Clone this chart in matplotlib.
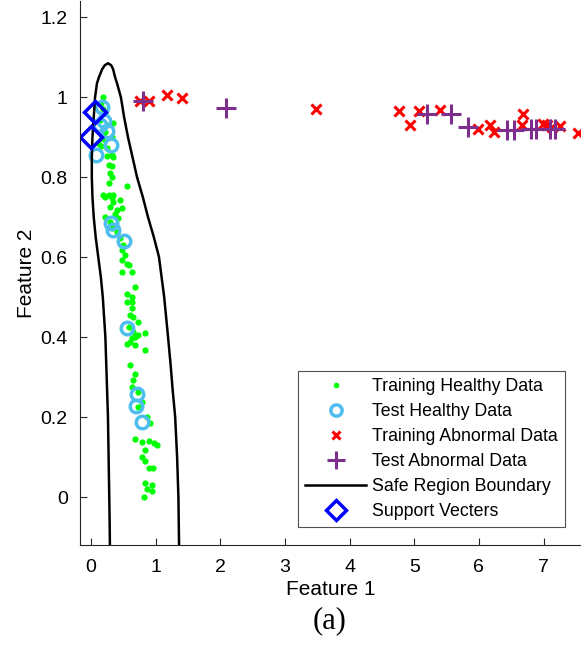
import numpy as np
import matplotlib
matplotlib.use('Agg')
import matplotlib.pyplot as plt

# Training healthy data (green dots)
train_h_x = [0.19, 0.15, 0.19, 0.22, 0.14, 0.345, 0.24, 0.22, 0.32, 0.19, 0.165, 0.22, 0.11,
             0.15, 0.24, 0.32, 0.24, 0.345, 0.27, 0.32, 0.29, 0.32, 0.27, 0.55, 0.19, 0.27, 0.345,
             0.22, 0.32, 0.345, 0.45, 0.29, 0.40, 0.475, 0.37, 0.22, 0.42, 0.29, 0.32, 0.40, 0.45,
             0.50, 0.475, 0.53, 0.475, 0.55, 0.58, 0.475, 0.63, 0.68, 0.55, 0.63, 0.55, 0.63,
             0.63, 0.60, 0.655, 0.73, 0.58, 0.655, 0.835, 0.73, 0.68, 0.63, 0.60, 0.55, 0.68,
             0.835, 0.60, 0.68, 0.655, 0.63, 0.73, 0.78, 0.73,
             0.86, 0.91, 0.68, 0.785, 0.89, 0.965, 1.02, 0.835, 0.785, 0.835, 0.89, 0.955,
             0.835, 0.94, 0.86, 0.94, 0.81]
train_h_y = [1.00, 0.985, 0.97, 0.96, 0.943, 0.935, 0.93, 0.914, 0.90, 0.906, 0.897, 0.893, 0.885,
             0.877, 0.872, 0.856, 0.852, 0.85, 0.83, 0.827, 0.81, 0.80, 0.785, 0.777, 0.756, 0.755, 0.755,
             0.751, 0.747, 0.738, 0.742, 0.726, 0.718, 0.722, 0.709, 0.701, 0.697, 0.688, 0.672, 0.663, 0.647,
             0.63, 0.618, 0.605, 0.593, 0.584, 0.58, 0.563, 0.562, 0.526, 0.507, 0.50, 0.488, 0.487,
             0.472, 0.455, 0.451, 0.438, 0.426, 0.413, 0.41, 0.405, 0.401, 0.397, 0.388, 0.384, 0.38,
             0.367, 0.33, 0.309, 0.294, 0.276, 0.263, 0.238, 0.226,
             0.20, 0.184, 0.144, 0.138, 0.141, 0.136, 0.13, 0.118, 0.101, 0.091, 0.072, 0.072,
             0.036, 0.03, 0.019, 0.016, 0.0]

# Test healthy data (light blue rings)
test_h_x = [0.165, 0.14, 0.20, 0.24, 0.30, 0.08, 0.30, 0.34, 0.51, 0.55, 0.71, 0.70, 0.79]
test_h_y = [0.975, 0.93, 0.94, 0.915, 0.88, 0.855, 0.685, 0.667, 0.64, 0.423, 0.257, 0.228, 0.187]

# Training abnormal data (red crosses)
train_a_x = [0.76, 0.89, 1.17, 1.40, 3.48, 4.77, 4.94, 5.07, 5.40, 5.98, 6.17, 6.24,
             6.69, 6.67, 6.99, 7.05, 7.13, 7.26, 7.54]
train_a_y = [0.99, 0.99, 1.005, 0.997, 0.97, 0.966, 0.93, 0.966, 0.967, 0.92, 0.93, 0.913,
             0.957, 0.93, 0.934, 0.93, 0.926, 0.927, 0.91]

# Test abnormal data (purple plus)
test_a_x = [0.80, 2.09, 5.20, 5.57, 5.83, 6.43, 6.55, 6.81, 6.88, 7.10, 7.18]
test_a_y = [0.99, 0.973, 0.957, 0.957, 0.926, 0.918, 0.918, 0.92, 0.92, 0.92, 0.92]

# Safe region boundary (left branch up, right branch down)
bound_x = [0.29, 0.285, 0.28, 0.27, 0.26, 0.24, 0.22, 0.20, 0.18, 0.15, 0.11, 0.07, 0.04,
           0.02, 0.01, 0.01, 0.02, 0.03, 0.04, 0.06, 0.09, 0.12, 0.17, 0.21, 0.26,
           0.31, 0.34, 0.37, 0.40, 0.46, 0.51, 0.57, 0.64, 0.71, 0.80, 0.88, 0.97,
           1.05, 1.09, 1.13, 1.16, 1.19, 1.23, 1.26, 1.30, 1.33, 1.35, 1.36]
bound_y = [-0.12, -0.05, 0.0, 0.1, 0.2, 0.3, 0.4, 0.45, 0.5, 0.55, 0.6, 0.65, 0.7,
           0.75, 0.8, 0.85, 0.9, 0.93, 0.95, 1.0, 1.035, 1.05, 1.07, 1.08, 1.085,
           1.08, 1.07, 1.05, 1.035, 1.0, 0.95, 0.9, 0.85, 0.8, 0.75, 0.7, 0.65,
           0.6, 0.55, 0.5, 0.45, 0.4, 0.33, 0.27, 0.2, 0.1, 0.0, -0.12]

# Support vectors
sv_x = [0.06, 0.0]
sv_y = [0.963, 0.90]

plt.rcParams['font.family'] = ['Liberation Sans', 'DejaVu Sans']

fig = plt.figure(figsize=(5.81, 6.45), dpi=100)
ax = fig.add_axes([0.138, 0.155, 0.862, 0.843])

ax.plot(train_h_x, train_h_y, 'o', color='#00FF00', ms=4.5, mec='none',
        label='Training Healthy Data')
ax.plot(test_h_x, test_h_y, 'o', mfc='none', mec='#4DBEEE', mew=2.5, ms=9,
        label='Test Healthy Data')
ax.plot(train_a_x, train_a_y, 'x', color='#FF0000', ms=7, mew=2.2,
        label='Training Abnormal Data')
ax.plot(test_a_x, test_a_y, '+', color='#7E2F8E', ms=15, mew=2.2,
        label='Test Abnormal Data')
ax.plot(bound_x, bound_y, 'k-', lw=1.8, label='Safe Region Boundary')
ax.plot(sv_x, sv_y, 'D', mfc='none', mec='#0000FF', mew=2.5, ms=11,
        label='Support Vecters')

ax.set_xlim(-0.17, 7.58)
ax.set_ylim(-0.12, 1.24)
ax.set_xticks(range(0, 8))
ax.set_yticks([0, 0.2, 0.4, 0.6, 0.8, 1.0, 1.2])
ax.set_yticklabels(['0', '0.2', '0.4', '0.6', '0.8', '1', '1.2'])
ax.spines['top'].set_visible(False)
ax.spines['right'].set_visible(False)
for s in ['left', 'bottom']:
    ax.spines[s].set_color('#262626')
    ax.spines[s].set_linewidth(0.8)
ax.tick_params(direction='in', length=5, width=0.8, color='#262626',
               labelsize=14)
ax.tick_params(axis='x', pad=10)
ax.tick_params(axis='y', pad=9)

ax.set_xlabel('Feature 1', fontsize=15, labelpad=3)
ax.set_ylabel('Feature 2', fontsize=15, labelpad=3)

leg = ax.legend(loc='lower right', bbox_to_anchor=(0.968, 0.033), fontsize=12.8,
                frameon=True, fancybox=False, edgecolor='#262626',
                handlelength=3.4, handletextpad=0.35, labelspacing=0.45,
                borderpad=0.4, borderaxespad=0, markerscale=0.9)
leg.get_frame().set_linewidth(0.8)

fig.text(0.568, 0.038, '(a)', fontsize=22, family='Liberation Serif',
         ha='center', va='center')

fig.savefig('out.png', dpi=100)
